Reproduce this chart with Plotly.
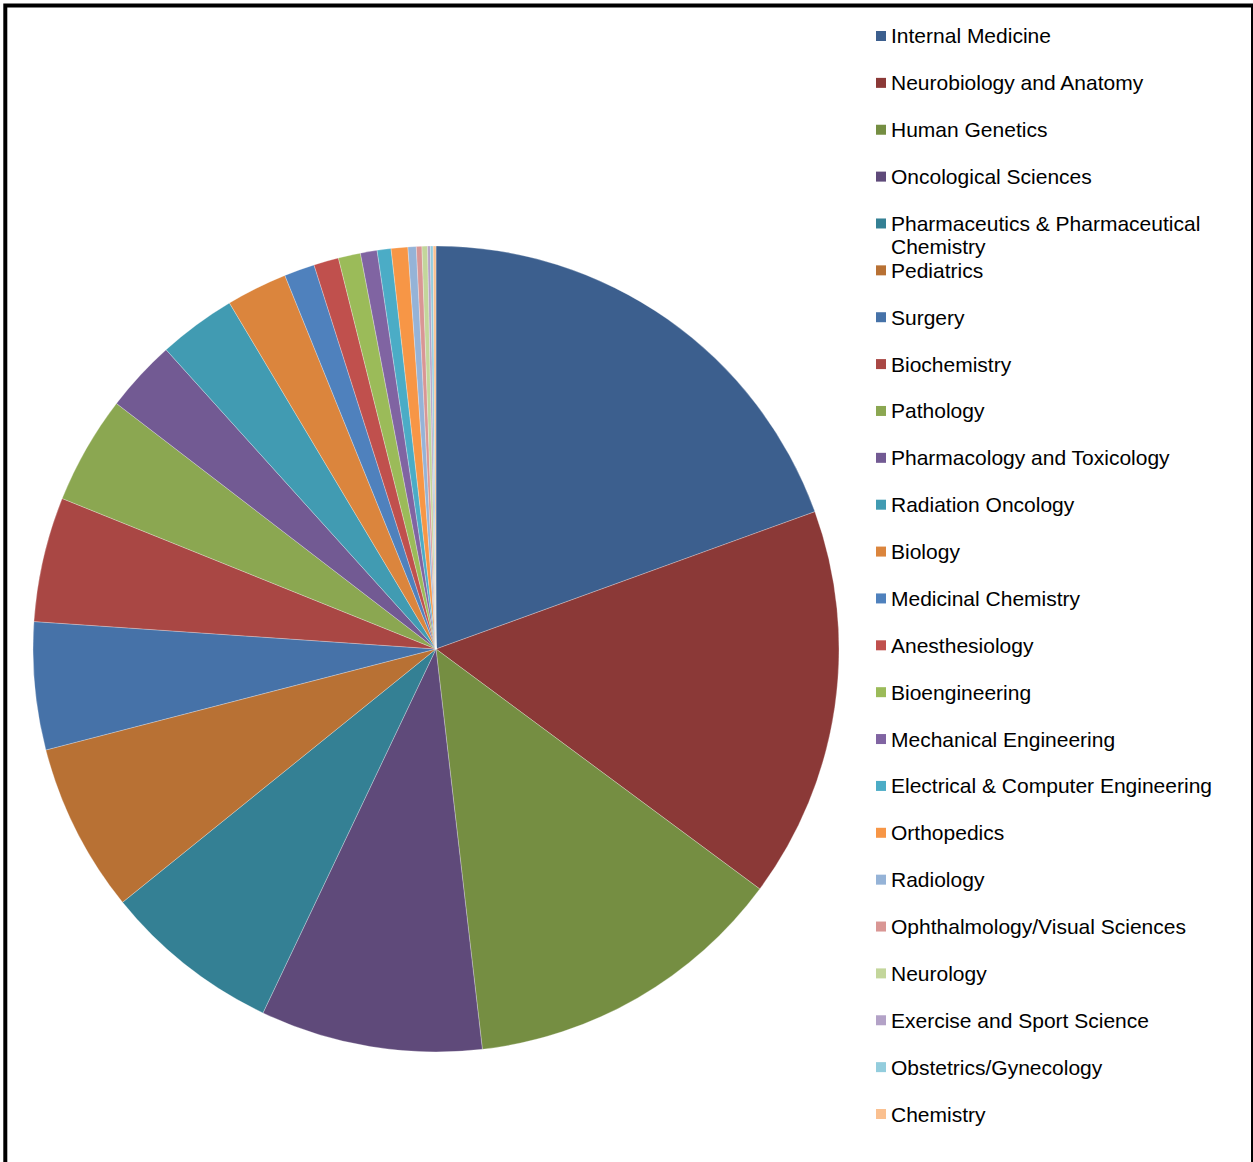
import plotly.graph_objects as go

# Faculty counts per department (clockwise from 12 o'clock)
departments = [
    "Internal Medicine", "Neurobiology and Anatomy", "Human Genetics",
    "Oncological Sciences", "Pharmaceutics & Pharmaceutical Chemistry",
    "Pediatrics", "Surgery", "Biochemistry", "Pathology",
    "Pharmacology and Toxicology", "Radiation Oncology", "Biology",
    "Medicinal Chemistry", "Anesthesiology", "Bioengineering",
    "Mechanical Engineering", "Electrical & Computer Engineering",
    "Orthopedics", "Radiology", "Ophthalmology/Visual Sciences",
    "Neurology", "Exercise and Sport Science", "Obstetrics/Gynecology",
    "Chemistry",
]
counts = [175, 141, 117, 80, 64, 61, 46, 45, 39, 26, 28, 22,
          11, 9, 8, 6, 5, 6, 3, 2, 2, 1, 1, 1]
colors = [
    "#3C5F8E", "#8B3937", "#758E42", "#5F4A7A", "#348094", "#B87134",
    "#4672A8", "#A94744", "#8BA751", "#725A93", "#419BB2", "#DB853D",
    "#4F81BD", "#C0504D", "#9BBB59", "#8064A2", "#4BACC6", "#F79646",
    "#95B3D7", "#D99694", "#C3D69B", "#B3A2C7", "#93CDDD", "#FAC090",
]

W, H = 1253, 1162
cx, cy, r = 436, 649, 403

fig = go.Figure(go.Pie(
    labels=departments,
    values=counts,
    marker=dict(colors=colors, line=dict(color="rgba(255,255,255,0.45)", width=0.6)),
    sort=False,
    direction="clockwise",
    rotation=0,
    textinfo="none",
    hoverinfo="label+value+percent",
    showlegend=False,
    domain=dict(x=[(cx - r) / W, (cx + r) / W],
                y=[1 - (cy + r) / H, 1 - (cy - r) / H]),
))

# Legend drawn on the right: square swatch + label per department
font_size = 21
legend_font = dict(family="Liberation Sans, Arial, sans-serif", size=font_size, color="#000000")
first_y, step, wrap_gap = 36, 46.87, 23.5
sw_x0, sw_x1, text_x = 876, 886, 889
# long names are wrapped onto a second line inside their legend slot
wrap = {"Pharmaceutics & Pharmaceutical Chemistry": ["Pharmaceutics & Pharmaceutical", "Chemistry"]}

shapes = []
annotations = []
for i, (name, col) in enumerate(zip(departments, colors)):
    yc = first_y + step * i
    shapes.append(dict(type="rect", xref="paper", yref="paper",
                       x0=sw_x0 / W, x1=sw_x1 / W,
                       y0=1 - (yc + 5) / H, y1=1 - (yc - 5) / H,
                       fillcolor=col, line=dict(width=0)))
    for k, line in enumerate(wrap.get(name, [name])):
        annotations.append(dict(text=line, xref="paper", yref="paper",
                                x=text_x / W, y=1 - (yc + k * wrap_gap) / H,
                                xanchor="left", yanchor="middle", align="left",
                                showarrow=False, font=legend_font))

# Outer frame of the chart area
shapes.append(dict(type="rect", xref="paper", yref="paper",
                   x0=5.3 / W, x1=1253 / W, y0=-0.05, y1=1 - 5.6 / H,
                   line=dict(color="#000000", width=4), fillcolor="rgba(0,0,0,0)"))

fig.update_layout(
    width=W, height=H,
    margin=dict(l=0, r=0, t=0, b=0),
    paper_bgcolor="#FFFFFF",
    plot_bgcolor="#FFFFFF",
    shapes=shapes,
    annotations=annotations,
)

fig.write_html("out.html")
